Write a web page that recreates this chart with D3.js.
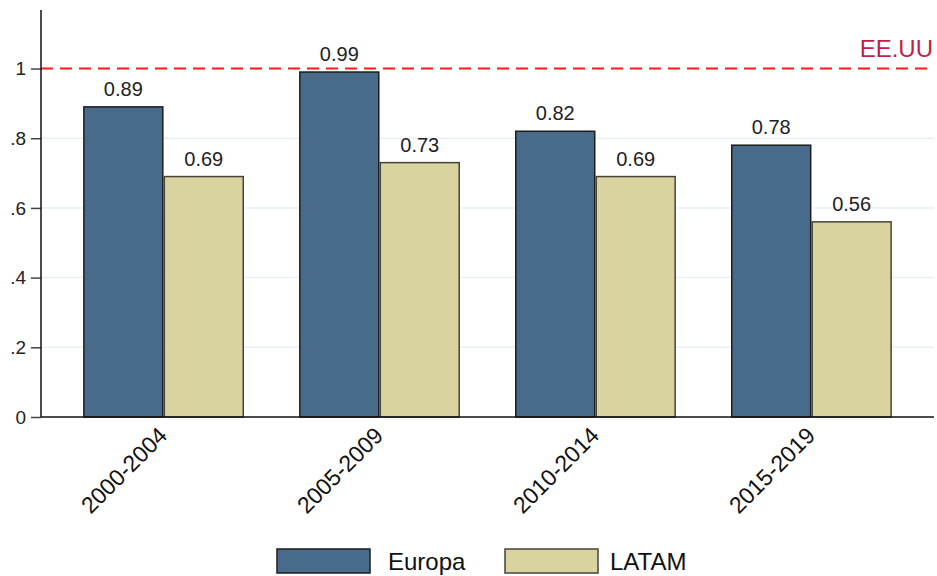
<!DOCTYPE html>
<html>
<head>
<meta charset="utf-8">
<script src="https://cdn.jsdelivr.net/npm/d3@7"></script>
<style>
  html, body { margin: 0; padding: 0; background: #fff; }
  svg { display: block; font-family: Arial, "Liberation Sans", sans-serif; }
</style>
</head>
<body>
<svg id="chart" width="937" height="576"></svg>
<script>
// Periods on the x axis
const periods = ["2000-2004", "2005-2009", "2010-2014", "2015-2019"];
// Series and their values (ratio to the United States)
const seriesNames = ["Europa", "LATAM"];
const europa = [0.89, 0.99, 0.82, 0.78];
const latam = [0.69, 0.73, 0.69, 0.56];
// Reference line for the United States
const refValue = 1;
const refLabel = "EE.UU";
// Y axis ticks
const yTicks = [0, 0.2, 0.4, 0.6, 0.8, 1];
const yTickLabels = ["0", ".2", ".4", ".6", ".8", "1"];

const colors = { Europa: "#486b8b", LATAM: "#d8d39f" };
const strokes = { Europa: "#1c1c1c", LATAM: "#45443a" };

const svg = d3.select("#chart");
const plotLeft = 41, plotRight = 934, plotTop = 10, plotBottom = 417;

const x = d3.scaleBand()
  .domain(periods)
  .range([plotLeft, plotRight])
  .paddingInner(0.255)
  .paddingOuter(0.195);

const xs = d3.scaleBand()
  .domain(seriesNames)
  .range([0, x.bandwidth()]);

const y = d3.scaleLinear().domain([0, 1.168]).range([plotBottom, plotTop]);

// Gridlines
svg.append("g")
  .selectAll("line")
  .data(yTicks.filter(d => d > 0 && d < 1))
  .join("line")
  .attr("x1", plotLeft).attr("x2", plotRight)
  .attr("y1", d => y(d)).attr("y2", d => y(d))
  .attr("stroke", "#e8f0f2").attr("stroke-width", 1.5);

// Data rows
const rows = periods.map((p, i) => ({ period: p, values: [
  { key: "Europa", value: europa[i] },
  { key: "LATAM", value: latam[i] }
]}));

const groups = svg.append("g")
  .selectAll("g")
  .data(rows)
  .join("g")
  .attr("transform", d => `translate(${x(d.period)},0)`);

groups.selectAll("rect")
  .data(d => d.values)
  .join("rect")
  .attr("x", d => xs(d.key) + 0.75)
  .attr("width", xs.bandwidth() - 1.5)
  .attr("y", d => y(d.value))
  .attr("height", d => y(0) - y(d.value))
  .attr("fill", d => colors[d.key])
  .attr("stroke", d => strokes[d.key])
  .attr("stroke-width", 1.5);

groups.selectAll("text")
  .data(d => d.values)
  .join("text")
  .attr("x", d => xs(d.key) + xs.bandwidth() / 2)
  .attr("y", d => y(d.value) - 11)
  .attr("text-anchor", "middle")
  .attr("font-size", 20)
  .attr("fill", "#222")
  .text(d => d.value.toFixed(2));

// Reference line
svg.append("line")
  .attr("x1", plotLeft).attr("x2", plotRight)
  .attr("y1", y(refValue)).attr("y2", y(refValue))
  .attr("stroke", "#ff1a1a").attr("stroke-width", 2)
  .attr("stroke-dasharray", "12,7");

svg.append("text")
  .attr("x", plotRight - 1)
  .attr("y", 57)
  .attr("text-anchor", "end")
  .attr("font-size", 24)
  .attr("fill", "#c21f45")
  .text(refLabel);

// Y axis
const yAxis = d3.axisLeft(y)
  .tickValues(yTicks)
  .tickFormat((d, i) => yTickLabels[i])
  .tickSize(10)
  .tickPadding(5);

const gy = svg.append("g")
  .attr("transform", `translate(${plotLeft},0)`)
  .call(yAxis);
gy.select(".domain").remove();
gy.selectAll(".tick line").attr("stroke", "#444").attr("stroke-width", 1.5);
gy.selectAll(".tick text").attr("font-size", 19).attr("fill", "#222")
  .attr("font-family", "Arial, 'Liberation Sans', sans-serif");

svg.append("line")
  .attr("x1", plotLeft).attr("x2", plotLeft)
  .attr("y1", plotTop).attr("y2", plotBottom)
  .attr("stroke", "#111").attr("stroke-width", 1.5);

// X axis
const xAxis = d3.axisBottom(x).tickSize(0).tickPadding(0);
const gx = svg.append("g")
  .attr("transform", `translate(0,${plotBottom})`)
  .call(xAxis);
gx.select(".domain").remove();
gx.selectAll(".tick text")
  .attr("font-size", 23)
  .attr("fill", "#111")
  .attr("font-family", "Arial, 'Liberation Sans', sans-serif")
  .attr("text-anchor", "end")
  .attr("dy", null)
  .attr("transform", "translate(5,20) rotate(-45)");

svg.append("line")
  .attr("x1", plotLeft).attr("x2", plotRight)
  .attr("y1", plotBottom).attr("y2", plotBottom)
  .attr("stroke", "#111").attr("stroke-width", 1.5);

// Legend
const legendItems = [
  { key: "Europa", bx: 277, tx: 388 },
  { key: "LATAM", bx: 505, tx: 610 }
];
const lg = svg.append("g");
lg.selectAll("rect")
  .data(legendItems)
  .join("rect")
  .attr("x", d => d.bx).attr("y", 549)
  .attr("width", 93).attr("height", 24)
  .attr("fill", d => colors[d.key])
  .attr("stroke", d => strokes[d.key])
  .attr("stroke-width", 1.5);
lg.selectAll("text")
  .data(legendItems)
  .join("text")
  .attr("x", d => d.tx).attr("y", 570)
  .attr("font-size", 24)
  .attr("fill", "#111")
  .text(d => d.key);
</script>
</body>
</html>
